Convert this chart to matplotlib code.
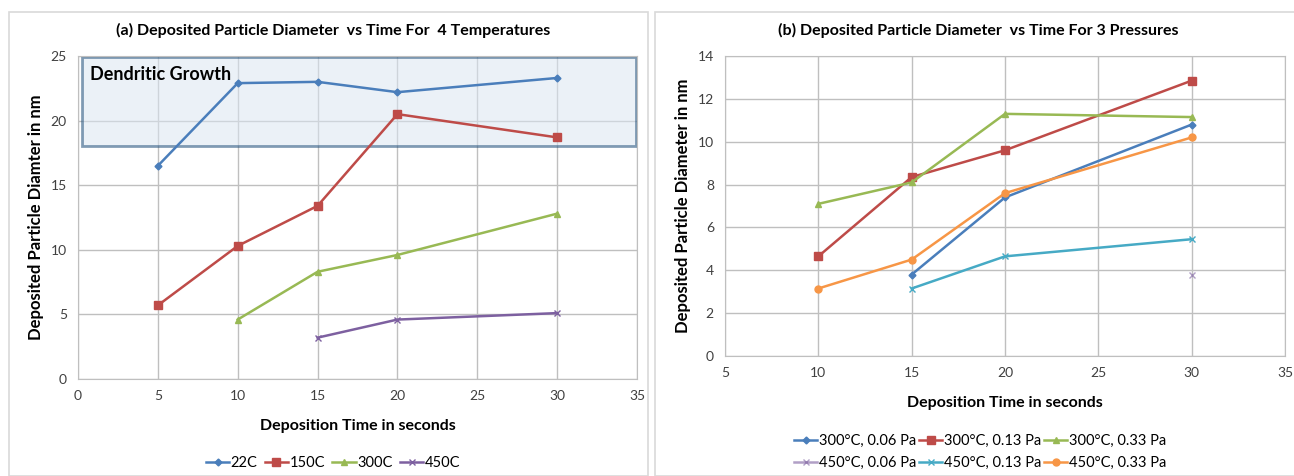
import numpy as np
import matplotlib
matplotlib.use("Agg")
from matplotlib import pyplot as plt
from matplotlib.patches import Rectangle

plt.rcParams['font.family'] = ['Lato', 'DejaVu Sans']

# panel (a): temperatures
temp_labels = ["22C", "150C", "300C", "450C"]
t_22 = [5, 10, 15, 20, 30]
d_22 = [16.5, 22.9, 23.0, 22.2, 23.3]
t_150 = [5, 10, 15, 20, 30]
d_150 = [5.7, 10.3, 13.4, 20.5, 18.7]
t_300 = [10, 15, 20, 30]
d_300 = [4.6, 8.3, 9.6, 12.8]
t_450 = [15, 20, 30]
d_450 = [3.2, 4.6, 5.1]

# panel (b): pressures
pres_labels = ["300°C, 0.06 Pa", "300°C, 0.13 Pa", "300°C, 0.33 Pa",
               "450°C, 0.06 Pa", "450°C, 0.13 Pa", "450°C, 0.33 Pa"]
t_300_006 = [15, 20, 30]
d_300_006 = [3.8, 7.4, 10.8]
t_300_013 = [10, 15, 20, 30]
d_300_013 = [4.65, 8.35, 9.6, 12.85]
t_300_033 = [10, 15, 20, 30]
d_300_033 = [7.1, 8.1, 11.3, 11.15]
t_450_006 = [30]
d_450_006 = [3.8]
t_450_013 = [15, 20, 30]
d_450_013 = [3.15, 4.65, 5.45]
t_450_033 = [10, 15, 20, 30]
d_450_033 = [3.15, 4.5, 7.6, 10.2]

blue = "#4a7ebb"
red = "#be4b48"
green = "#98b954"
purple = "#7d60a0"
cyan = "#46aac5"
orange = "#f79646"
grid_c = "#bfbfbf"

fig = plt.figure(figsize=(12.94, 4.76), dpi=100)

# panel frames
fig.patches.append(Rectangle((9/1294, 0), 639/1294, 1 - 12/476, transform=fig.transFigure,
                             fill=False, edgecolor="#d9d9d9", lw=1.2))
fig.patches.append(Rectangle((655/1294, 0), 640/1294, 1 - 12/476, transform=fig.transFigure,
                             fill=False, edgecolor="#d9d9d9", lw=1.2))


def style_axes(ax):
    ax.grid(True, color=grid_c, lw=1)
    ax.set_axisbelow(True)
    for s in ax.spines.values():
        s.set_color(grid_c)
    ax.tick_params(length=0, labelsize=10, colors="#404040", pad=8)


ax1 = fig.add_axes([78/1294, 1 - 379/476, (637 - 78)/1294, (379 - 56)/476])
ax1.add_patch(Rectangle((0.25, 18.0), 34.7, 6.9, facecolor="#dce6f2", alpha=0.55,
                        edgecolor="#1f4e79", lw=2, zorder=1))
ax1.text(0.75, 23.55, "Dendritic Growth", fontsize=13, fontweight="bold", va="center", zorder=5)
ms = 5
ax1.plot(t_22, d_22, color=blue, marker="D", ms=3.5, lw=1.8, label=temp_labels[0], zorder=3)
ax1.plot(t_150, d_150, color=red, marker="s", ms=ms + 1, lw=1.8, label=temp_labels[1], zorder=3)
ax1.plot(t_300, d_300, color=green, marker="^", ms=ms, lw=1.8, label=temp_labels[2], zorder=3)
ax1.plot(t_450, d_450, color=purple, marker="x", ms=ms, lw=1.8, label=temp_labels[3], zorder=3)
ax1.set_xlim(0, 35)
ax1.set_ylim(0, 25)
ax1.set_xticks(range(0, 36, 5))
ax1.set_yticks(range(0, 26, 5))
style_axes(ax1)
ax1.set_xlabel("Deposition Time in seconds", fontsize=11.5, fontweight="bold", labelpad=12)
ax1.set_ylabel("Deposited Particle Diamter in nm", fontsize=12, fontweight="bold", labelpad=5)
fig.text(333/1294, 1 - 30/476, "(a) Deposited Particle Diameter  vs Time For  4 Temperatures",
         fontsize=11.5, fontweight="bold", ha="center", va="center")
fig.legend(*ax1.get_legend_handles_labels(), loc="center", bbox_to_anchor=(333/1294, 1 - 463/476),
           ncol=4, frameon=False, fontsize=10.5, handlelength=1.6, handletextpad=0.1,
           columnspacing=0.5, borderpad=0)

ax2 = fig.add_axes([725/1294, 1 - 356/476, (1285 - 725)/1294, (356 - 56)/476])
ax2.plot(t_300_006, d_300_006, color=blue, marker="D", ms=3.5, lw=1.8, label=pres_labels[0])
ax2.plot(t_300_013, d_300_013, color=red, marker="s", ms=ms + 1, lw=1.8, label=pres_labels[1])
ax2.plot(t_300_033, d_300_033, color=green, marker="^", ms=ms, lw=1.8, label=pres_labels[2])
ax2.plot(t_450_006, d_450_006, color=purple, marker="x", ms=ms, lw=1.8, alpha=0.6, label=pres_labels[3])
ax2.plot(t_450_013, d_450_013, color=cyan, marker="x", ms=ms, lw=1.8, label=pres_labels[4])
ax2.plot(t_450_033, d_450_033, color=orange, marker="o", ms=ms, lw=1.8, label=pres_labels[5])
ax2.set_xlim(5, 35)
ax2.set_ylim(0, 14)
ax2.set_xticks(range(5, 36, 5))
ax2.set_yticks(range(0, 15, 2))
style_axes(ax2)
ax2.set_xlabel("Deposition Time in seconds", fontsize=11.5, fontweight="bold", labelpad=12)
ax2.set_ylabel("Deposited Particle Diameter in nm", fontsize=12, fontweight="bold", labelpad=5)
fig.text(978/1294, 1 - 30/476, "(b) Deposited Particle Diameter  vs Time For 3 Pressures",
         fontsize=11.5, fontweight="bold", ha="center", va="center")
# legend fills column by column, so interleave to get the rows right
h, l = ax2.get_legend_handles_labels()
order = [0, 3, 1, 4, 2, 5]
fig.legend([h[i] for i in order], [l[i] for i in order], loc="center",
           bbox_to_anchor=(980/1294, 1 - 452/476),
           ncol=3, frameon=False, fontsize=10.5, handlelength=1.6, handletextpad=0.1,
           columnspacing=0.2, borderpad=0, labelspacing=0.5)

fig.savefig("out.png", dpi=100)
